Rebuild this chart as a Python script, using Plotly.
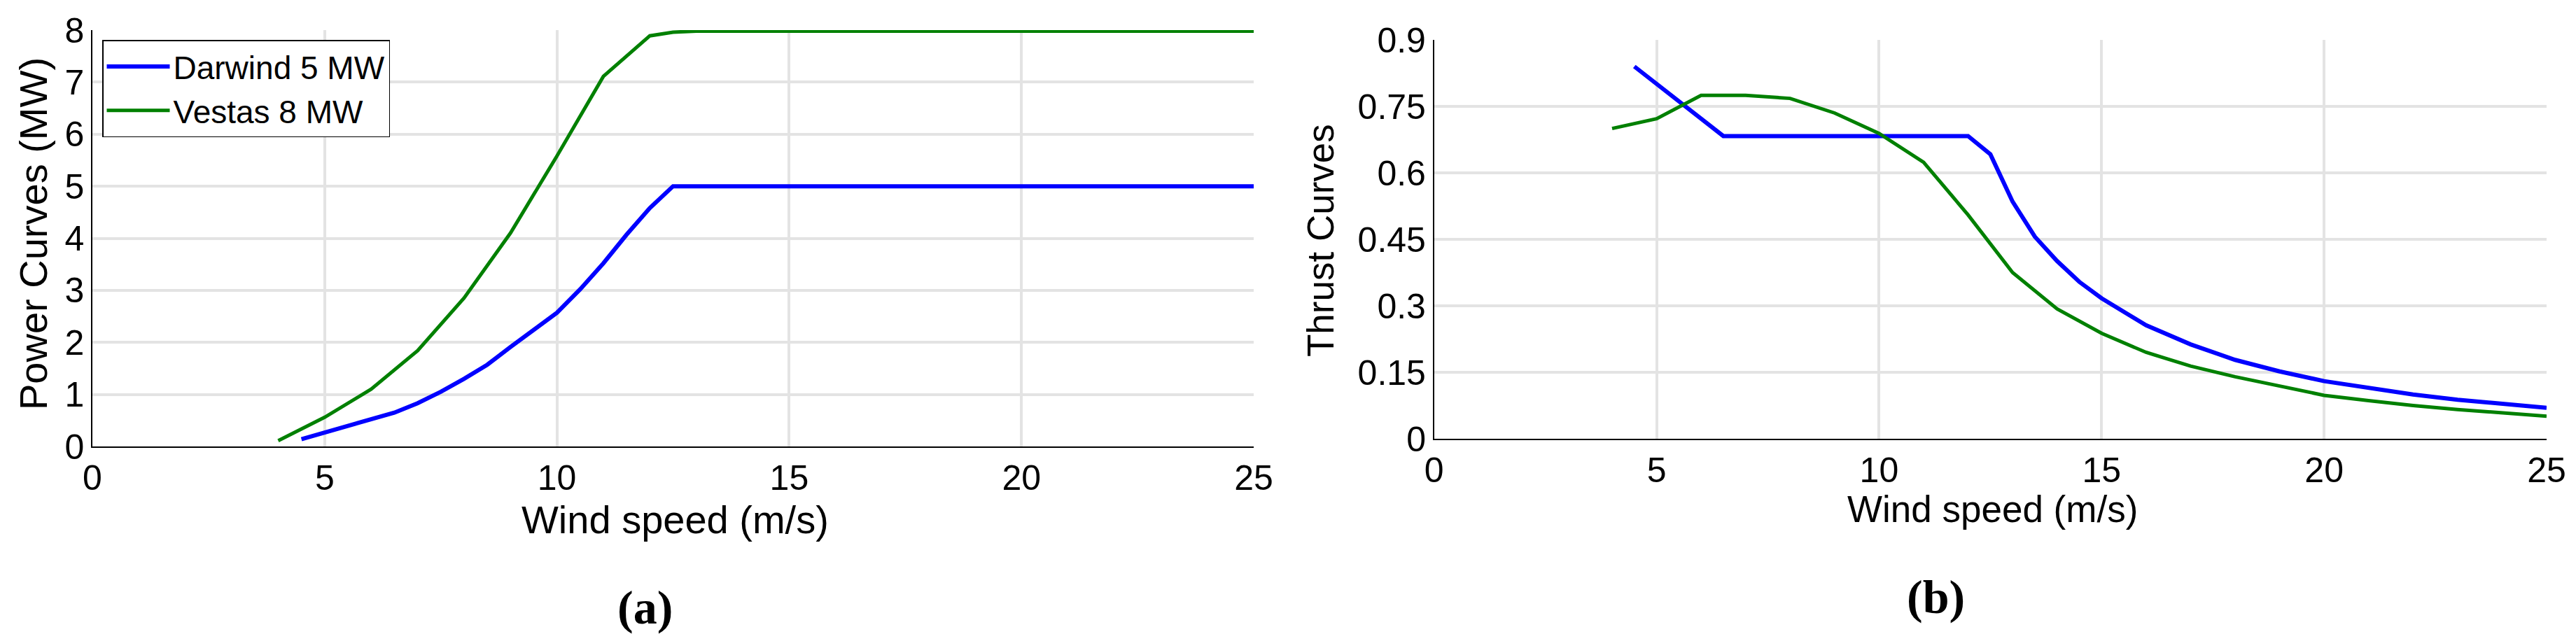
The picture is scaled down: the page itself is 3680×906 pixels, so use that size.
import plotly.graph_objects as go

# ---------------- data ----------------
wind_power_darwind = [4.5, 5, 5.5, 6, 6.5, 7, 7.5, 8, 8.5, 9, 9.5, 10, 10.5, 11, 11.5, 12, 12.5,
                      13, 14, 15, 16, 17, 18, 19, 20, 21, 22, 23, 24, 25]
power_darwind = [0.14, 0.27, 0.38, 0.52, 0.65, 0.83, 1.05, 1.30, 1.57, 1.91, 2.24, 2.57, 3.02,
                 3.52, 4.07, 4.58, 5.0, 5.0, 5.0, 5.0, 5.0, 5.0, 5.0, 5.0, 5.0, 5.0, 5.0, 5.0, 5.0, 5.0]

wind_power_vestas = [4, 5, 6, 7, 8, 9, 10, 11, 12, 12.5, 13, 14, 15, 16, 17, 18, 19, 20, 21,
                     22, 23, 24, 25]
power_vestas = [0.11, 0.56, 1.10, 1.84, 2.85, 4.10, 5.58, 7.11, 7.89, 7.96, 7.98, 7.98, 7.98,
                7.98, 7.98, 7.98, 7.98, 7.98, 7.98, 7.98, 7.98, 7.98, 7.98]

wind_thrust_darwind = [4.5, 5, 5.5, 6, 6.5, 7, 8, 9, 10, 11, 12, 12.5, 13, 13.5, 14, 14.5, 15,
                       16, 17, 18, 19, 20, 21, 22, 23, 24, 25]
thrust_darwind = [0.84, 0.80, 0.762, 0.722, 0.683, 0.683, 0.683, 0.683, 0.683, 0.683, 0.683,
                  0.642, 0.535, 0.456, 0.401, 0.354, 0.317, 0.256, 0.213, 0.178, 0.152, 0.130,
                  0.115, 0.100, 0.088, 0.078, 0.070]

wind_thrust_vestas = [4, 5, 6, 7, 8, 9, 10, 11, 12, 13, 14, 15, 16, 17, 18, 19, 20, 21, 22, 23,
                      24, 25]
thrust_vestas = [0.70, 0.722, 0.775, 0.775, 0.768, 0.735, 0.689, 0.624, 0.505, 0.375, 0.293,
                 0.238, 0.195, 0.164, 0.140, 0.119, 0.098, 0.086, 0.075, 0.066, 0.058, 0.051]

series_names = ["Darwind 5 MW", "Vestas 8 MW"]
series_colors = ["#0000ff", "#008000"]

x_ticks = [0, 5, 10, 15, 20, 25]
power_ticks = [0, 1, 2, 3, 4, 5, 6, 7, 8]
thrust_ticks = [0, 0.15, 0.3, 0.45, 0.6, 0.75, 0.9]
thrust_tick_text = ["0", "0.15", "0.3", "0.45", "0.6", "0.75", "0.9"]

# ---------------- figure ----------------
W, H = 3680, 906
FONT = "Liberation Sans, Arial, sans-serif"

fig = go.Figure()
fig.add_trace(go.Scatter(x=wind_power_darwind, y=power_darwind, mode="lines",
                         name=series_names[0], line=dict(color=series_colors[0], width=6),
                         xaxis="x", yaxis="y"))
fig.add_trace(go.Scatter(x=wind_power_vestas, y=power_vestas, mode="lines",
                         name=series_names[1], line=dict(color=series_colors[1], width=5),
                         xaxis="x", yaxis="y"))
fig.add_trace(go.Scatter(x=wind_thrust_darwind, y=thrust_darwind, mode="lines",
                         name=series_names[0], showlegend=False,
                         line=dict(color=series_colors[0], width=6), xaxis="x2", yaxis="y2"))
fig.add_trace(go.Scatter(x=wind_thrust_vestas, y=thrust_vestas, mode="lines",
                         name=series_names[1], showlegend=False,
                         line=dict(color=series_colors[1], width=5), xaxis="x2", yaxis="y2"))

def px_x(p):
    return p / W

def px_y(p):
    return (H - p) / H

common_axis = dict(showgrid=True, gridcolor="#e3e3e3", gridwidth=3.5, zeroline=False,
                   showline=True, linecolor="black", linewidth=1.5, mirror=False,
                   automargin=False,
                   ticks="", tickfont=dict(family=FONT, size=50, color="black"))

fig.update_layout(
    width=W, height=H,
    margin=dict(l=0, r=0, t=0, b=0, pad=0, autoexpand=False),
    paper_bgcolor="white", plot_bgcolor="white",
    font=dict(family=FONT, color="black"),
    xaxis=dict(domain=[px_x(124), px_x(1783)], range=[0, 25], tickvals=x_ticks,
               anchor="y", **common_axis),
    yaxis=dict(domain=[px_y(630), px_y(35)], range=[0, 8], tickvals=power_ticks,
               anchor="x", **common_axis),
    xaxis2=dict(domain=[px_x(2040.7), px_x(3630)], range=[0, 25], tickvals=x_ticks,
                anchor="y2", **common_axis),
    yaxis2=dict(domain=[px_y(619), px_y(49)], range=[0, 0.9], tickvals=thrust_ticks,
                ticktext=thrust_tick_text, anchor="x2", **common_axis),
    legend=dict(x=px_x(138), y=px_y(49), xanchor="left", yanchor="top",
                bgcolor="white", bordercolor="black", borderwidth=1.5,
                font=dict(family=FONT, size=46, color="black"),
                itemwidth=90, tracegroupgap=0),
    showlegend=True,
)

annotations = [
    dict(text="Wind speed (m/s)", x=px_x(956), y=px_y(734), font=dict(size=56)),
    dict(text="Wind speed (m/s)", x=px_x(2838), y=px_y(719), font=dict(size=53)),
    dict(text="Power Curves (MW)", x=px_x(40), y=px_y(326), textangle=-90, font=dict(size=56)),
    dict(text="Thrust Curves", x=px_x(1878), y=px_y(335), textangle=-90, font=dict(size=53)),
    dict(text="<b>(a)</b>", x=px_x(913), y=px_y(860),
         font=dict(size=68, family="Liberation Serif, Times New Roman, serif")),
    dict(text="<b>(b)</b>", x=px_x(2757), y=px_y(845),
         font=dict(size=68, family="Liberation Serif, Times New Roman, serif")),
]
for a in annotations:
    f = dict(family=FONT, color="black")
    f.update(a.pop("font"))
    fig.add_annotation(xref="paper", yref="paper", xanchor="center", yanchor="middle",
                       showarrow=False, font=f, **a)

fig.write_html("out.html")
